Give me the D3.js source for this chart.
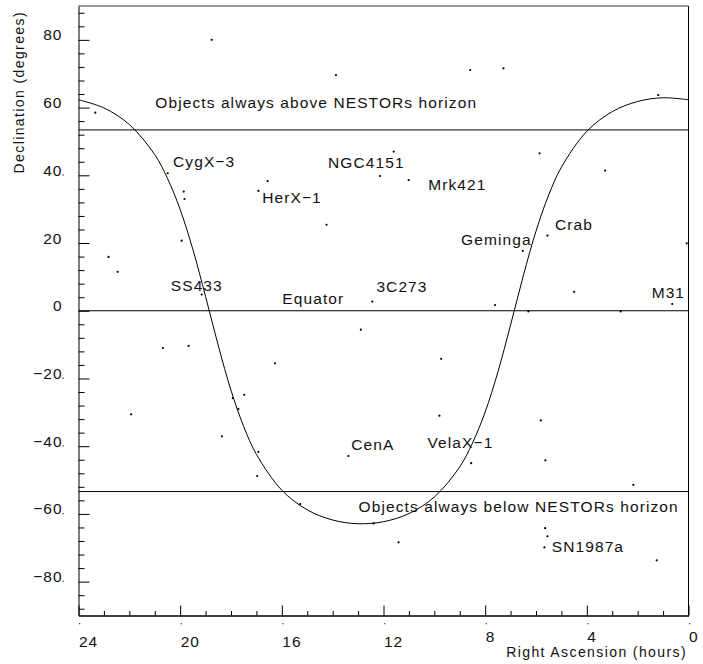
<!DOCTYPE html>
<html>
<head>
<meta charset="utf-8">
<script src="https://cdn.jsdelivr.net/npm/d3@7/dist/d3.min.js"></script>
<style>
body { margin: 0; background: #fff; }
svg { display: block; }
text { font-family: "Liberation Sans", Arial, sans-serif; fill: #111; }
.lbl { font-size: 15.5px; letter-spacing: 1.1px; }
.tick text { font-size: 15.5px; letter-spacing: 1px; }
.title { font-size: 14px; letter-spacing: 1.4px; }
</style>
</head>
<body>
<div id="chart"></div>
<script>
// sky map: sources in equatorial coords, galactic plane, NESTOR visibility limits

// source positions (RA hours, Dec degrees)
var srcRA  = [18.76, 13.87, 23.34, 20.49, 16.56, 16.92, 19.86, 19.83, 14.24, 19.94,
              22.82, 22.46, 19.15, 12.44, 8.59, 7.28, 1.19, 11.60, 12.14, 5.86,
              3.28, 11.01, 5.55, 6.52, 0.07, 4.50, 7.61, 0.64, 6.30, 2.67,
              12.89, 20.68, 19.67, 16.27, 17.93, 17.48, 17.71, 21.93, 18.36, 16.92,
              13.38, 16.97, 15.28, 12.39, 9.73, 9.80, 5.81, 8.55, 5.63, 2.17,
              11.41, 5.64, 5.55, 5.67, 1.25];
var srcDec = [80.0, 69.6, 58.5, 40.6, 38.3, 35.4, 35.2, 33.0, 25.4, 20.7,
              15.9, 11.5, 4.8, 2.7, 71.1, 71.6, 63.7, 47.0, 39.8, 46.5,
              41.4, 38.6, 22.2, 17.7, 19.9, 5.6, 1.7, 2.0, -0.2, -0.2,
              -5.6, -11.0, -10.4, -15.5, -25.8, -24.8, -29.0, -30.6, -37.1, -41.7,
              -42.9, -48.8, -57.1, -62.8, -14.2, -31.0, -32.4, -45.0, -44.2, -51.4,
              -68.4, -64.2, -66.6, -69.9, -73.7];

// galactic plane
var planeRA  = [24, 23, 22, 21, 20.5, 20, 19.5, 19, 18.5, 18, 17.5, 17, 16, 15, 14, 13,
                12, 11, 10, 9, 8.5, 8, 7.5, 7, 6.5, 6, 5.5, 5, 4, 3, 2, 1, 0];
var planeDec = [62.3, 59.9, 55.0, 46.1, 39.1, 29.9, 18.1, 4.2, -10.3, -23.5, -34.2, -42.4, -53.0, -58.8, -61.8, -62.9,
                -62.3, -59.9, -55.0, -46.1, -39.1, -29.9, -18.1, -4.2, 10.3, 23.5, 34.2, 42.4, 53.0, 58.8, 61.8, 62.9, 62.3];

// horizontal reference lines
var limitDec = [53.4, 0, -53.4];

// text annotations
var lblText = ["Objects always above NESTORs horizon", "Objects always below NESTORs horizon",
               "CygX\u22123", "HerX\u22121", "NGC4151", "Mrk421", "Crab", "Geminga", "M31",
               "3C273", "Equator", "SS433", "CenA", "VelaX\u22121", "SN1987a"];
var lblRA  = [20.98, 12.98, 20.28, 16.77, 14.18, 10.24, 5.25, 8.95, 1.45, 12.28, 15.98, 20.37, 13.27, 10.27, 5.38];
var lblDec = [59.8, -59.4, 42.5, 31.9, 42.1, 35.7, 23.8, 19.3, 3.7, 5.5, 2.0, 5.8, -41.2, -40.6, -71.3];

// axis ticks
var decTicks = [-80, -60, -40, -20, 0, 20, 40, 60, 80];
var decDotted = [40, -20, -40, -60, -80];
var raTicks = [24, 20, 16, 12, 8, 4, 0];
var raRaised = [8, 4, 0];

var W = 703, H = 664;
var L = 78.5, R = 688.5, T = 6, B = 615.5;

var x = d3.scaleLinear().domain([24, 0]).range([L, R]);
var y = d3.scaleLinear().domain([-90, 90]).range([B, T]);

var svg = d3.select("#chart").append("svg")
  .attr("width", W)
  .attr("height", H);

function fmt(d) { return d < 0 ? "\u2212" + (-d) : "" + d; }

// frame top / right
svg.append("line").attr("x1", L).attr("x2", R).attr("y1", T).attr("y2", T)
  .attr("stroke", "#777").attr("stroke-width", 1.5);
svg.append("line").attr("x1", R).attr("x2", R).attr("y1", T).attr("y2", B)
  .attr("stroke", "#000").attr("stroke-width", 1);

// y axis
var yAx = svg.append("g").attr("transform", "translate(" + L + ",0)")
  .call(d3.axisLeft(y).tickValues(decTicks).tickSizeInner(-11).tickSizeOuter(0)
    .tickPadding(16).tickFormat(fmt));
yAx.selectAll("text").attr("dy", 0).attr("font-size", null).attr("font-family", null);
yAx.select(".domain").attr("stroke", "#000");

var yMinor = svg.append("g").attr("transform", "translate(" + L + ",0)")
  .call(d3.axisLeft(y).tickValues(d3.range(-88, 89, 4).filter(function(v) { return v % 20 != 0; }))
    .tickSizeInner(-6).tickSizeOuter(0).tickFormat(""));
yMinor.select(".domain").remove();

yAx.selectAll(".tick").filter(function(d) { return decDotted.indexOf(d) >= 0; })
  .append("rect").attr("x", -16).attr("y", -1.5).attr("width", 1.3).attr("height", 1.3).attr("fill", "#444");

// x axis
var xAx = svg.append("g").attr("transform", "translate(0," + B + ")")
  .call(d3.axisBottom(x).tickValues(raTicks).tickSizeInner(-10).tickSizeOuter(0)
    .tickPadding(31).tickFormat(function(d) { return d; }));
xAx.selectAll("text").attr("dy", function(d) { return raRaised.indexOf(d) >= 0 ? -5 : 0; })
  .attr("text-anchor", "start").attr("font-size", null).attr("font-family", null);
xAx.select(".domain").attr("stroke", "#000").attr("stroke-width", 1.6);
xAx.selectAll(".tick").append("rect").attr("x", 0).attr("y", 7.5)
  .attr("width", 1.3).attr("height", 1.3).attr("fill", "#555");

var xMinor = svg.append("g").attr("transform", "translate(0," + B + ")")
  .call(d3.axisBottom(x).tickValues(d3.range(1, 24).filter(function(v) { return v % 4 != 0; }))
    .tickSizeInner(-4.5).tickSizeOuter(0).tickFormat(""));
xMinor.select(".domain").remove();

// axis titles
svg.append("text").attr("class", "title")
  .attr("transform", "translate(24.3,11) rotate(-90)")
  .attr("text-anchor", "end")
  .text("Declination (degrees)");
svg.append("text").attr("class", "title")
  .attr("x", 687).attr("y", 657)
  .attr("text-anchor", "end")
  .text("Right Ascension (hours)");

// horizon + equator lines
svg.selectAll("line.lim")
  .data(limitDec)
  .enter()
  .append("line")
  .attr("class", "lim")
  .attr("x1", L).attr("x2", R)
  .attr("y1", function(d) { return y(d); })
  .attr("y2", function(d) { return y(d); })
  .attr("stroke", "#000").attr("stroke-width", 1);

// galactic plane
var pts = planeRA.map(function(r, i) { return [r, planeDec[i]]; });
svg.append("path")
  .datum(pts)
  .attr("fill", "none")
  .attr("stroke", "#000")
  .attr("stroke-width", 1)
  .attr("d", d3.line()
    .x(function(d) { return x(d[0]); })
    .y(function(d) { return y(d[1]); })
    .curve(d3.curveCatmullRom.alpha(0.5)));

// sources
svg.selectAll("circle.src")
  .data(srcRA)
  .enter()
  .append("circle")
  .attr("class", "src")
  .attr("cx", function(d) { return x(d); })
  .attr("cy", function(d, i) { return y(srcDec[i]); })
  .attr("r", 1.1)
  .attr("fill", "#000");

// labels
svg.selectAll("text.lbl")
  .data(lblText)
  .enter()
  .append("text")
  .attr("class", "lbl")
  .attr("x", function(d, i) { return x(lblRA[i]); })
  .attr("y", function(d, i) { return y(lblDec[i]); })
  .text(function(d) { return d; });
</script>
</body>
</html>
